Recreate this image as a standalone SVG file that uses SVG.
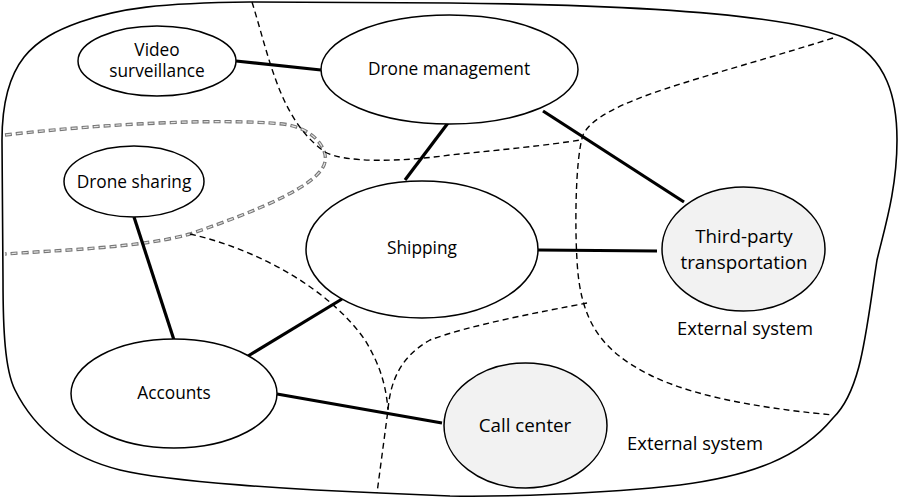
<svg xmlns="http://www.w3.org/2000/svg" width="898" height="498" viewBox="0 0 898 498">
<style>
.node{fill:#fff;stroke:#000;stroke-width:1.5}
.ext{fill:#f2f2f2;stroke:#000;stroke-width:1.5}
.t{font-family:"Open Sans","DejaVu Sans",sans-serif;font-size:17.3px;fill:#000;text-anchor:middle}
.tb{font-family:"Open Sans","DejaVu Sans",sans-serif;font-size:18.8px;fill:#000;text-anchor:middle}
.tl{font-family:"Open Sans","DejaVu Sans",sans-serif;font-size:18.4px;fill:#000;text-anchor:middle}
.conn{stroke:#000;stroke-width:3.2;fill:none}
.dash{stroke:#000;stroke-width:1.4;fill:none;stroke-dasharray:6,4}
.g1{stroke:#777;stroke-width:3.4;fill:none;stroke-dasharray:7,4}
.g2{stroke:#e6e6e6;stroke-width:1.2;fill:none;stroke-dasharray:5,6;stroke-dashoffset:-1}
</style>
<rect width="898" height="498" fill="#fff"/>
<g id="boundary">
<path d="M2,140 C2,60 35,38 80,22 C120,8 160,3 250,2 L450,3 C650,5 790,15 845,38 C888,58 897,100 897,140 C897,190 884,230 877,260 C866,330 862,390 833,418 C800,458 750,476 680,485 C600,494 500,497 450,496 L380,493 C300,490 170,482 120,470 C60,455 30,420 15,390 C5,370 3,330 3,280 Z" fill="none" stroke="#000" stroke-width="1.6"/>
</g>
<g id="boundaries">
<path class="g1" d="M5,135 C100,124 220,118 283,124 C315,128 328,150 325,162 C320,185 260,210 190,234 C140,248 60,250 5,254"/>
<path class="g2" d="M5,135 C100,124 220,118 283,124 C315,128 328,150 325,162 C320,185 260,210 190,234 C140,248 60,250 5,254"/>
<path class="dash" d="M252,2 C270,60 280,120 325,152 C345,163 400,162 450,155 C500,150 550,145 580,140"/>
<path class="dash" d="M833,38 C700,80 600,100 583,135 C575,160 575,230 577,260 C580,320 600,350 650,375 C700,400 780,410 833,415"/>
<path class="dash" d="M587,303 C540,312 470,325 430,340 C398,358 390,385 388,410 L377,493"/>
<path class="dash" d="M190,234 C260,250 330,290 365,340 C380,365 386,385 388,410"/>
</g>
<g id="connectors">
<line class="conn" x1="236" y1="61" x2="321" y2="70"/>
<line class="conn" x1="448" y1="123" x2="405" y2="180"/>
<line class="conn" x1="543" y1="111" x2="684" y2="202"/>
<line class="conn" x1="538" y1="250" x2="657" y2="251"/>
<line class="conn" x1="134" y1="217" x2="174" y2="340"/>
<line class="conn" x1="342" y1="299" x2="248" y2="356"/>
<line class="conn" x1="277" y1="394" x2="442" y2="423"/>
</g>
<g id="video-surveillance">
<ellipse class="node" cx="157" cy="61" rx="79" ry="35"/>
<text class="t" x="157" y="56">Video</text>
<text class="t" x="157" y="77">surveillance</text>
</g>
<g id="drone-management">
<ellipse class="node" cx="449.5" cy="69.5" rx="128.5" ry="54.5"/>
<text class="t" x="449" y="75">Drone management</text>
</g>
<g id="drone-sharing">
<ellipse class="node" cx="134" cy="181.5" rx="70" ry="35.5"/>
<text class="t" x="134" y="188">Drone sharing</text>
</g>
<g id="shipping">
<ellipse class="node" cx="422" cy="249.5" rx="116" ry="68.5"/>
<text class="t" x="422" y="254">Shipping</text>
</g>
<g id="accounts">
<ellipse class="node" cx="174" cy="393.5" rx="103" ry="54.5"/>
<text class="t" x="174" y="399">Accounts</text>
</g>
<g id="third-party">
<ellipse class="ext" cx="743.5" cy="249" rx="81.5" ry="62"/>
<text class="tb" x="744" y="243">Third-party</text>
<text class="tb" x="744" y="269">transportation</text>
<text class="tl" x="745" y="335">External system</text>
</g>
<g id="call-center">
<ellipse class="ext" cx="525.5" cy="425.5" rx="81.5" ry="62.5"/>
<text class="tb" x="525" y="432">Call center</text>
<text class="tl" x="695" y="450">External system</text>
</g>
</svg>
